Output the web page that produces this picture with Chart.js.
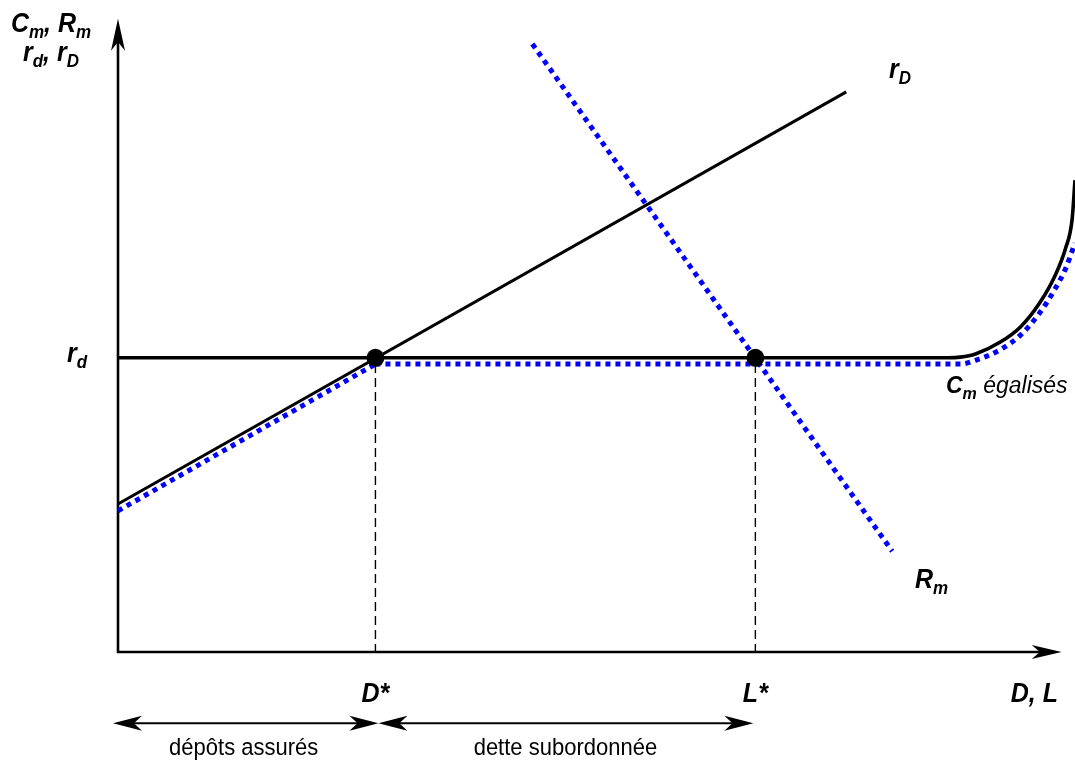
<!DOCTYPE html>
<html>
<head>
<meta charset="utf-8">
<script src="https://cdn.jsdelivr.net/npm/chart.js@4/dist/chart.umd.min.js"></script>
<style>
  html, body { margin: 0; padding: 0; background: #ffffff; }
  #wrap { width: 1075px; height: 760px; }
</style>
</head>
<body>
<div id="wrap"><canvas id="c" width="1075" height="760"></canvas></div>
<script>
// ---------- data (schematic units: x 0..100, y 0..100) ----------
const rdLevel = 46.7;          // r_d
const equilibriumX = [26.9, 66.6];   // D*, L*
const equilibriumY = [46.7, 46.7];

const rDX = [0, 76.1];          // r_D line
const rDY = [23.5, 88.9];
const rDBlueX = [0, 26.9];      // C_m égalisés (lower part, along r_D)
const rDBlueY = [22.4, 45.7];

const rmX = [43.3, 80.9];       // R_m
const rmY = [96.5, 16.0];

const cmX = [0, 86.7, 88.0, 89.6, 92.2, 94.3, 96.3, 97.9, 99.0, 99.7, 100];     // C_m (black)
const cmY = [46.7, 46.7, 46.8, 47.3, 49.2, 51.6, 55.4, 59.7, 64.0, 68.7, 74.9];
const cmBlueX = [26.9, 86.7, 88.0, 89.6, 92.2, 94.3, 96.3, 97.9, 99.0, 100];     // C_m égalisés (blue)
const cmBlueY = [45.7, 45.7, 45.7, 46.3, 48.0, 50.3, 53.8, 57.6, 60.8, 64.9];

const dashTopY = [45.7, 45.7];  // top of dashed verticals
const rangeArrowY = -11.3;      // level of the double arrows

const yAxisTitle = [["C","b"],["m","s"],[", ","b"],["R","b"],["m","s"]];
const yAxisTitle2 = [["r","b"],["d","s"],[", ","b"],["r","b"],["D","s"]];
const xAxisTitle = "D, L";
const tickLabelsX = ["D*", "L*"];
const rangeLabels = ["dépôts assurés", "dette subordonnée"];

const pts = (xs, ys) => xs.map((x, i) => ({x: x, y: ys[i]}));

const BLUE = '#0000ff';
const FONT = '"Liberation Sans", Arial, sans-serif';
const VSTRETCH = 1.08;

function rich(ctx, parts, x, y, align, size, subSize) {
  size = size || 25; subSize = subSize || 17;
  const fontOf = s => s === 's' ? `italic bold ${subSize}px ${FONT}` :
                      s === 'i' ? `italic ${size}px ${FONT}` :
                      s === 'n' ? `${size}px ${FONT}` : `italic bold ${size}px ${FONT}`;
  let w = 0;
  parts.forEach(p => { ctx.font = fontOf(p[1]); w += ctx.measureText(p[0]).width; });
  let cx = align === 'center' ? x - w / 2 : align === 'right' ? x - w : x;
  ctx.save();
  ctx.translate(0, y);
  ctx.scale(1, VSTRETCH);
  ctx.textAlign = 'left';
  ctx.textBaseline = 'alphabetic';
  ctx.fillStyle = '#000';
  parts.forEach(p => {
    ctx.font = fontOf(p[1]);
    ctx.fillText(p[0], cx, (p[1] === 's' ? 6 : 0));
    cx += ctx.measureText(p[0]).width;
  });
  ctx.restore();
}

function plainText(ctx, text, x, y, size) {
  ctx.save();
  ctx.translate(x, y);
  ctx.scale(1, VSTRETCH);
  ctx.font = `${size}px ${FONT}`;
  ctx.fillStyle = '#000';
  ctx.textAlign = 'center';
  ctx.textBaseline = 'alphabetic';
  ctx.fillText(text, 0, 0);
  ctx.restore();
}

function arrowHead(ctx, x1, y1, x2, y2, len, half) {
  const a = Math.atan2(y2 - y1, x2 - x1);
  ctx.save();
  ctx.translate(x2, y2);
  ctx.rotate(a);
  ctx.beginPath();
  ctx.moveTo(0, 0);
  ctx.lineTo(-len, -half);
  ctx.lineTo(-len * 0.72, 0);
  ctx.lineTo(-len, half);
  ctx.closePath();
  ctx.fillStyle = '#000';
  ctx.fill();
  ctx.restore();
}

function line(ctx, x1, y1, x2, y2, w) {
  ctx.beginPath();
  ctx.moveTo(x1, y1);
  ctx.lineTo(x2, y2);
  ctx.lineWidth = w;
  ctx.strokeStyle = '#000';
  ctx.stroke();
}

const decor = {
  id: 'decor',
  beforeDatasetsDraw(chart) {
    const ctx = chart.ctx, xs = chart.scales.x, ys = chart.scales.y;
    const x0 = xs.getPixelForValue(0), y0 = ys.getPixelForValue(0);
    ctx.save();
    const yTop = ys.getPixelForValue(100.5);
    line(ctx, x0, y0 + 1, x0, yTop + 20, 2.6);
    arrowHead(ctx, x0, y0, x0, yTop, 32, 7);
    const xEnd = xs.getPixelForValue(98.6);
    line(ctx, x0 - 1, y0, xEnd - 20, y0, 2.6);
    arrowHead(ctx, x0, y0, xEnd, y0, 30, 7);
    ctx.restore();
  },
  afterDraw(chart) {
    const ctx = chart.ctx, xs = chart.scales.x, ys = chart.scales.y;
    const x0 = xs.getPixelForValue(0), y0 = ys.getPixelForValue(0);
    const xD = xs.getPixelForValue(equilibriumX[0]);
    const xL = xs.getPixelForValue(equilibriumX[1]);
    const yr = ys.getPixelForValue(rdLevel);
    ctx.save();
    const ya = ys.getPixelForValue(rangeArrowY);
    const seg = [[x0 - 5, xD + 3], [xD + 3, xL - 2]];
    seg.forEach(s => {
      line(ctx, s[0] + 15, ya, s[1] - 15, ya, 2);
      arrowHead(ctx, s[1], ya, s[0], ya, 29, 7.5);
      arrowHead(ctx, s[0], ya, s[1], ya, 29, 7.5);
    });
    plainText(ctx, rangeLabels[0], (x0 + xD) / 2 - 3, ya + 32, 22);
    plainText(ctx, rangeLabels[1], (xD + xL) / 2, ya + 32, 22);

    rich(ctx, yAxisTitle, 51, 32, 'center');
    rich(ctx, yAxisTitle2, 51, 61, 'center');
    rich(ctx, [[xAxisTitle, 'b']], 1058, 702, 'right');
    rich(ctx, [[tickLabelsX[0], 'b']], xD, y0 + 50, 'center');
    rich(ctx, [[tickLabelsX[1], 'b']], xL, y0 + 50, 'center');
    rich(ctx, [["r", 'b'], ["d", 's']], 67, yr + 4, 'left');
    rich(ctx, [["r", 'b'], ["D", 's']], 889, 78, 'left');
    rich(ctx, [["R", 'b'], ["m", 's']], 915, 588, 'left');
    rich(ctx, [["C", 'b'], ["m", 's'], [" égalisés", 'i']], 946, 393, 'left', 23, 16);
    ctx.restore();
  }
};

const lineDs = (label, data, color, width, dash, extra) => Object.assign({
  label: label, data: data, showLine: true, borderColor: color, borderWidth: width,
  borderDash: dash || [], borderCapStyle: 'butt', pointRadius: 0, fill: false,
  tension: 0, clip: false
}, extra || {});

new Chart(document.getElementById('c'), {
  type: 'scatter',
  data: {
    datasets: [
      { label: 'Équilibres', data: pts(equilibriumX, equilibriumY), showLine: false,
        pointRadius: 9, pointBackgroundColor: '#000', pointBorderColor: '#000', pointBorderWidth: 0, clip: false },
      lineDs('R_m', pts(rmX, rmY), BLUE, 5, [5, 5]),
      lineDs('C_m égalisés (bas)', pts(rDBlueX, rDBlueY), BLUE, 5, [5, 5]),
      lineDs('C_m égalisés', pts(cmBlueX, cmBlueY), BLUE, 5, [5, 5], {cubicInterpolationMode: 'monotone'}),
      lineDs('C_m', pts(cmX, cmY), '#000', 3.6, [], {cubicInterpolationMode: 'monotone'}),
      lineDs('r_D', pts(rDX, rDY), '#000', 3, []),
      lineDs('D*', pts([equilibriumX[0], equilibriumX[0]], [dashTopY[0], 0]), '#000', 1.4, [9, 5]),
      lineDs('L*', pts([equilibriumX[1], equilibriumX[1]], [dashTopY[1], 0]), '#000', 1.4, [9, 5])
    ]
  },
  options: {
    responsive: false,
    animation: false,
    devicePixelRatio: 1,
    layout: { autoPadding: false, padding: { left: 118, right: 0, top: 22, bottom: 108 } },
    scales: {
      x: { type: 'linear', min: 0, max: 100, display: false },
      y: { type: 'linear', min: 0, max: 100, display: false }
    },
    plugins: { legend: { display: false }, tooltip: { enabled: false } },
    events: []
  },
  plugins: [decor]
});
</script>
</body>
</html>
